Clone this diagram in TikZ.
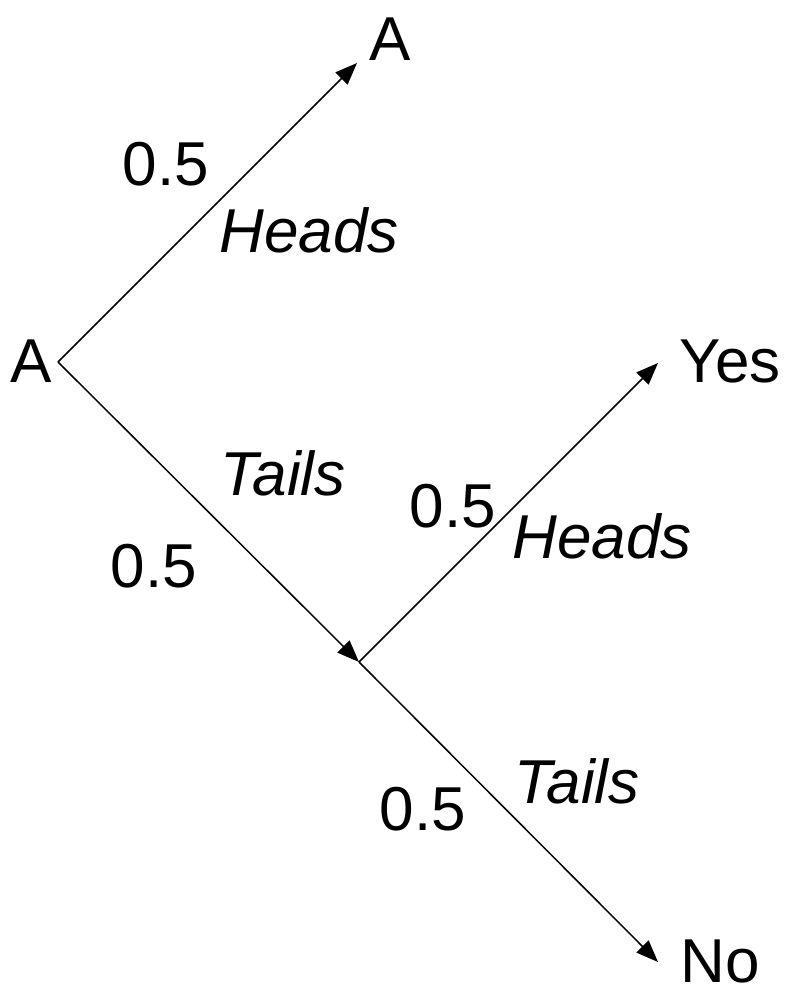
\documentclass[tikz,border=0pt]{standalone}
\usepackage{fontspec}
\setmainfont{Liberation Sans}
\usetikzlibrary{arrows.meta}
\tikzset{
  lbl/.style={anchor=base, inner sep=0pt, font=\fontsize{62}{74}\selectfont},
  ilbl/.style={lbl, font=\fontsize{62}{74}\selectfont\itshape},
  branch/.style={line width=1.5pt, -{Triangle[length=22pt,width=17pt]}},
}
\begin{document}
\begin{tikzpicture}[x=1pt,y=-1pt]
\useasboundingbox (0,0) rectangle (800,996);
% outcome texts
\node[lbl] (rootA) at (31,382) {A};
\node[lbl] (topA) at (390,60) {A};
\node[lbl] (yes) at (730,382) {Yes};
\node[lbl] (no) at (720,982) {No};
% branch points
\coordinate (root) at (58,362);
\coordinate (mid) at (359,662);
\coordinate (tipA) at (357,63);
\coordinate (tipYes) at (658,363);
\coordinate (tipNo) at (658,962);
% connectors
\draw[branch] (root) -- (tipA);
\draw[branch] (root) -- (mid);
\draw[branch] (mid) -- (tipYes);
\draw[branch] (mid) -- (tipNo);
% labels
\node[lbl] (p1) at (166,185) {0.5};
\node[ilbl] (h1) at (309,252) {Heads};
\node[ilbl] (t1) at (283,495) {Tails};
\node[lbl] (p2) at (154,587) {0.5};
\node[lbl] (p3) at (453,527) {0.5};
\node[ilbl] (h2) at (602,558) {Heads};
\node[lbl] (p4) at (423,830) {0.5};
\node[ilbl] (t2) at (577,803) {Tails};
\end{tikzpicture}
\end{document}
